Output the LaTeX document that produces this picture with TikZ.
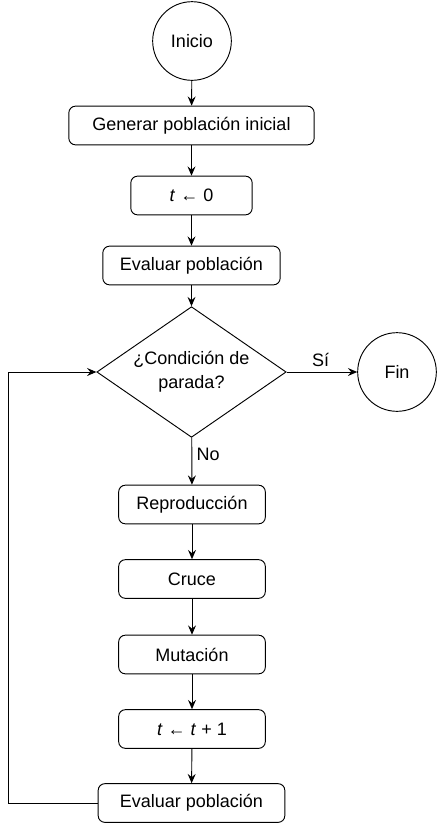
\documentclass[tikz,border=0pt]{standalone}
\usepackage{fontspec}
\setmainfont{Liberation Sans}
\usetikzlibrary{shapes.geometric,arrows.meta}
\tikzset{
  paso/.style={draw, rectangle, rounded corners=5pt, minimum height=29pt, font=\fontsize{13.5}{16}\selectfont},
  terminal/.style={draw, circle, minimum size=59pt, inner sep=0pt, font=\fontsize{13.5}{16}\selectfont},
  decision/.style={draw, diamond, aspect=1.45, minimum width=142pt, minimum height=98pt, inner sep=0pt, align=center, font=\fontsize{13.5}{18}\selectfont},
  flecha/.style={-{Stealth[length=7pt,width=6pt,inset=2.5pt]}},
  etiqueta/.style={font=\fontsize{13.5}{16}\selectfont}
}
\begin{document}
\begin{tikzpicture}[x=0.75pt,y=-0.75pt,line width=0.7pt]
 \useasboundingbox (0,0) rectangle (439,825);
 \node[terminal] (inicio) at (192,41) {Inicio};
 \node[paso, minimum width=184pt] (generar) at (191.5,125.5) {Generar población inicial};
 \node[paso, minimum width=91pt] (tcero) at (191.5,195.5) {\textit{t} ← 0};
 \node[paso, minimum width=133pt] (evaluar) at (191.5,265.5) {Evaluar población};
 \node[decision] (condicion) at (191.5,372) {¿Condición de\\parada?};
 \node[terminal] (fin) at (397,372) {Fin};

 \node[paso, minimum width=110pt] (reproduccion) at (192,504.5) {Reproducción};
 \node[paso, minimum width=110pt] (cruce) at (192,579) {Cruce};
 \node[paso, minimum width=110pt] (mutacion) at (192,654.5) {Mutación};
 \node[paso, minimum width=110pt] (tmas) at (192,729) {\textit{t} ← \textit{t} + 1};
 \node[paso, minimum width=140pt] (evaluar2) at (191.5,803) {Evaluar población};

 \coordinate (vuelta) at (8,803);

 \draw[flecha] (inicio) -- (generar);
 \draw[flecha] (generar) -- (tcero);
 \draw[flecha] (tcero) -- (evaluar);
 \draw[flecha] (evaluar) -- (condicion);
 \draw[flecha] (condicion) -- node[etiqueta, above, pos=0.48] {Sí} (fin);
 \draw[flecha] (condicion) -- node[etiqueta, right, pos=0.35] {No} (reproduccion);
 \draw[flecha] (reproduccion) -- (cruce);
 \draw[flecha] (cruce) -- (mutacion);
 \draw[flecha] (mutacion) -- (tmas);
 \draw[flecha] (tmas) -- (evaluar2);
 \draw[flecha] (evaluar2.west) -- (vuelta) |- (condicion.west);
\end{tikzpicture}
\end{document}
